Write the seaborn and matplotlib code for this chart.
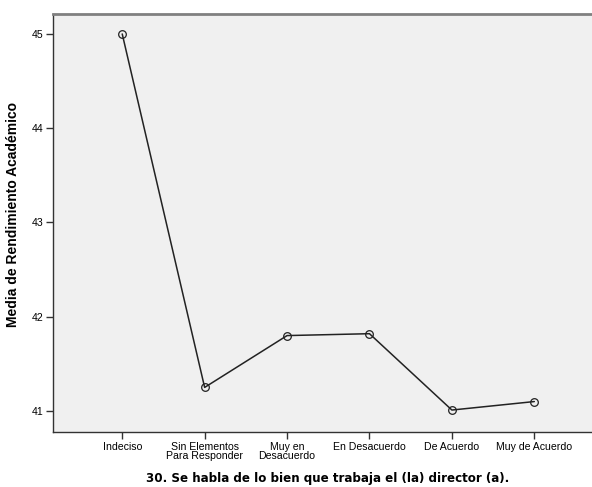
import numpy as np
import pandas as pd
import matplotlib
matplotlib.use("Agg")
import matplotlib.pyplot as plt
import seaborn as sns

categorias = ["Indeciso", "Sin Elementos\nPara Responder", "Muy en\nDesacuerdo",
              "En Desacuerdo", "De Acuerdo", "Muy de Acuerdo"]
medias = [45.00, 41.25, 41.80, 41.82, 41.01, 41.10]
y_ticks = [41, 42, 43, 44, 45]

sns.set_style("white")
plt.rcParams["font.family"] = ["Liberation Sans", "DejaVu Sans"]
plt.rcParams["text.color"] = "black"
plt.rcParams["axes.labelcolor"] = "black"
plt.rcParams["xtick.color"] = "black"
plt.rcParams["ytick.color"] = "black"

df = pd.DataFrame({"categoria": categorias, "media": medias})

fig = plt.figure(figsize=(5.92, 4.87), dpi=100)
ax = fig.add_axes([53 / 592, 55 / 487, 1 - 53 / 592, 418 / 487])
ax.set_facecolor("#f0f0f0")

sns.lineplot(data=df, x="categoria", y="media", sort=False, ax=ax,
             color="#222222", linewidth=1.1, marker="o", markersize=5.5,
             markerfacecolor="none", markeredgecolor="#222222", markeredgewidth=0.9)

ax.set_xlim(-0.84, 5.7)
ax.set_ylim(40.777, 45.212)
ax.set_yticks(y_ticks)
ax.set_yticklabels([str(t) for t in y_ticks])

for s in ["left", "bottom"]:
    ax.spines[s].set_color("#333333")
    ax.spines[s].set_linewidth(1.0)
ax.spines["top"].set_color("#808080")
ax.spines["top"].set_linewidth(2.0)
ax.spines["right"].set_visible(False)

ax.tick_params(axis="both", direction="out", length=5, width=1, color="#333333",
               labelcolor="black", labelsize=7.6, pad=2, left=True, bottom=True)
for lbl in ax.get_xticklabels():
    lbl.set_linespacing(0.9)

ax.set_xlabel("30. Se habla de lo bien que trabaja el (la) director (a).",
              fontsize=8.6, fontweight="bold", labelpad=8, family="DejaVu Sans")
ax.xaxis.label.set_x(0.51)
ax.set_ylabel("Media de Rendimiento Académico", fontsize=10, fontweight="bold", labelpad=8)
ax.yaxis.label.set_y(0.52)

fig.savefig("out.png", dpi=100)
